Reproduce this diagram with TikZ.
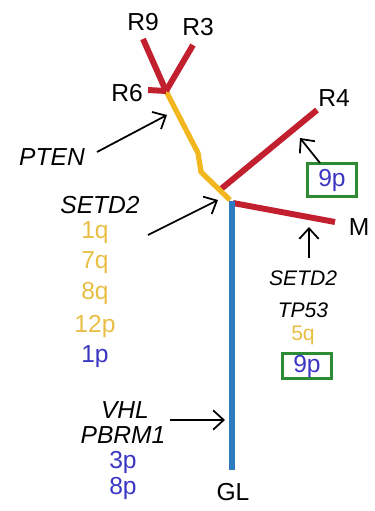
\documentclass[tikz,border=0pt]{standalone}
\usepackage{fontspec}
\setmainfont{Liberation Sans}
\usetikzlibrary{arrows.meta}
\definecolor{treered}{HTML}{C2202F}
\definecolor{treeyel}{HTML}{F2B71E}
\definecolor{treeblue}{HTML}{2C7BC0}
\definecolor{chryel}{HTML}{E9BE45}
\definecolor{chrblue}{HTML}{3B36C2}
\definecolor{boxgreen}{HTML}{2E8B35}
\begin{document}
\begin{tikzpicture}[x=0.02cm,y=-0.02cm,
  lbl/.style={font=\fontsize{14}{16}\selectfont, inner sep=0pt},
  gene/.style={font=\fontsize{14}{16}\selectfont\itshape, inner sep=0pt},
  genesm/.style={font=\fontsize{12}{14}\selectfont\itshape, inner sep=0pt},
  chy/.style={font=\fontsize{14}{16}\selectfont, text=chryel, inner sep=0pt},
  chb/.style={font=\fontsize{14}{16}\selectfont, text=chrblue, inner sep=0pt},
  gbox/.style={draw=boxgreen, line width=1.4pt, text=chrblue, font=\fontsize{14}{16}\selectfont, inner sep=0pt},
  redb/.style={draw=treered, line width=3.4pt},
  yelb/.style={draw=treeyel, line width=3pt, line join=round},
  blueb/.style={draw=treeblue, line width=3.4pt},
  arr/.style={draw=black, line width=1pt, -{Straight Barb[length=6pt,width=11pt,line width=1pt]}}]
\useasboundingbox (0,0) rectangle (375,511);
% tree points
\coordinate (r6j) at (166,91);
\coordinate (r6end) at (148,90);
\coordinate (r9end) at (143,39);
\coordinate (r3end) at (193,45);
\coordinate (y1) at (198,153);
\coordinate (y2) at (201,172);
\coordinate (r4j) at (221,189);
\coordinate (mj) at (230,200);
\coordinate (bstart) at (232,201);
\coordinate (r4end) at (317,110);
\coordinate (mstart) at (233,203);
\coordinate (mend) at (335,222);
\coordinate (glend) at (232,470);
% branches
\draw[redb] (r4j) -- (r4end);
\draw[redb] (mstart) -- (mend);
\draw[blueb] (bstart) -- (glend);
\draw[yelb] (r6j) -- (y1) -- (y2) -- (mj);
\draw[redb] (r6end) -- (r6j);
\draw[redb] (r6j) -- (r9end);
\draw[redb] (r6j) -- (r3end);
% leaf labels
\node[lbl] (R9) at (143,22) {R9};
\node[lbl] (R3) at (198,27) {R3};
\node[lbl] (R6) at (127,93) {R6};
\node[lbl] (R4) at (334,98) {R4};
\node[lbl] (M) at (359,227) {M};
\node[lbl] (GL) at (233,492) {GL};
% left annotations
\node[gene] (pten) at (52,157) {PTEN};
\node[gene] (setdl) at (100,205) {SETD2};
\node[chy] (c1q) at (95,233) {1q};
\node[chy] (c7q) at (95,263) {7q};
\node[chy] (c8q) at (95,293) {8q};
\node[chy] (c12p) at (95,326) {12p};
\node[chb] (c1p) at (95,357) {1p};
\node[gene] (vhl) at (125,410) {VHL};
\node[gene] (pbrm) at (123,435) {PBRM1};
\node[chb] (c3p) at (123,462) {3p};
\node[chb] (c8p) at (123,488) {8p};
% right annotations
\node[gbox, minimum width=28pt, minimum height=19pt] (box9a) at (332,180) {9p};
\node[genesm] (setdr) at (303,278) {SETD2};
\node[genesm] (tp53) at (303,310) {TP53};
\node[chy, font=\fontsize{12}{14}\selectfont] (c5q) at (303,335) {5q};
\node[gbox, minimum width=28pt, minimum height=14pt] (box9b) at (307,366) {9p};
% arrows
\coordinate (aPtenT) at (97,152);
\coordinate (aPtenH) at (167,115);
\coordinate (aSetT) at (148,235);
\coordinate (aSetH) at (218,200);
\coordinate (aVhlT) at (170,420);
\coordinate (aVhlH) at (225,420);
\coordinate (a9T) at (320,163);
\coordinate (a9H) at (300,138);
\coordinate (aMT) at (309,258);
\coordinate (aMH) at (309,227);
\draw[arr] (aPtenT) -- (aPtenH);
\draw[arr] (aSetT) -- (aSetH);
\draw[arr] (aVhlT) -- (aVhlH);
\draw[arr] (a9T) -- (a9H);
\draw[arr] (aMT) -- (aMH);
\end{tikzpicture}
\end{document}
